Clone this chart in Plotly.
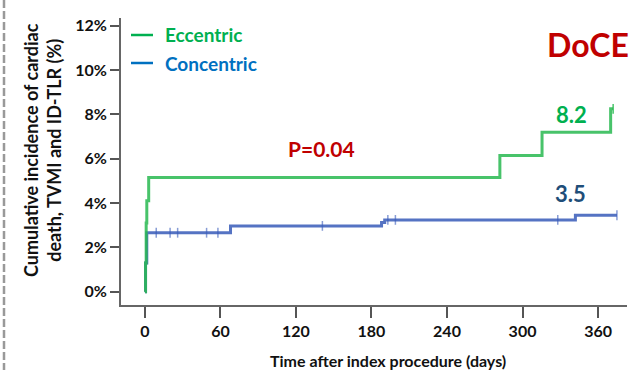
import plotly.graph_objects as go

# ---- data ----
ecc_days = [0, 0.5, 1.0, 1.5, 3.0, 282, 315.5, 370, 372]
ecc_pct = [0, 1.3, 3.1, 4.1, 5.15, 6.15, 7.2, 8.25, 8.25]

con_days = [0, 0.5, 1.5, 68, 188, 190.5, 342, 375]
con_pct = [0, 1.3, 2.66, 2.97, 3.12, 3.24, 3.45, 3.45]

con_cens_days = [9, 20, 26, 49, 58, 141, 193, 199, 328, 375]
con_cens_pct = [2.66, 2.66, 2.66, 2.66, 2.66, 2.97, 3.24, 3.24, 3.24, 3.45]
ecc_cens_days = [372]
ecc_cens_pct = [8.25]

x_ticks = [0, 60, 120, 180, 240, 300, 360]
y_ticks = [0, 2, 4, 6, 8, 10, 12]
y_ticklabels = ["0%", "2%", "4%", "6%", "8%", "10%", "12%"]

GREEN_LINE = "rgba(40,185,80,0.85)"
BLUE_LINE = "rgba(55,90,185,0.85)"
GREEN_TXT = "#00b050"
BLUE_TXT = "#0070c0"
NAVY = "#1f4e79"
RED = "#c00000"
FONT = "Lato"

fig = go.Figure()
fig.add_trace(go.Scatter(x=con_days, y=con_pct, mode="lines", line=dict(color=BLUE_LINE, width=3, shape="hv"),
                         showlegend=False, hoverinfo="skip"))
fig.add_trace(go.Scatter(x=ecc_days, y=ecc_pct, mode="lines", line=dict(color=GREEN_LINE, width=3, shape="hv"),
                         showlegend=False, hoverinfo="skip"))
fig.add_trace(go.Scatter(x=con_cens_days, y=con_cens_pct, mode="markers",
                         marker=dict(symbol="line-ns", size=7, line=dict(color="rgba(55,90,185,0.6)", width=1.5)),
                         showlegend=False, hoverinfo="skip"))
fig.add_trace(go.Scatter(x=ecc_cens_days, y=ecc_cens_pct, mode="markers",
                         marker=dict(symbol="line-ns", size=7, line=dict(color=GREEN_LINE, width=1.5)),
                         showlegend=False, hoverinfo="skip"))

L, R, T, B = 121, 7, 18, 65
W, H = 634, 370
pw = W - L - R
ph = H - T - B


def px(xp):
    return (xp - L) / pw


def py(yp):
    return (H - B - yp) / ph


fig.update_layout(
    width=W, height=H,
    margin=dict(l=L, r=R, t=T, b=B, pad=0),
    paper_bgcolor="white", plot_bgcolor="white",
    font=dict(family=FONT, color="#111"),
    xaxis=dict(range=[-19, 383], tickmode="array", tickvals=x_ticks,
               showgrid=False, zeroline=False, showline=True, linecolor="#666", linewidth=2,
               ticks="outside", ticklen=11, tickwidth=2, tickcolor="#555",
               tickfont=dict(family=FONT, size=16, color="#111", weight="bold")),
    yaxis=dict(range=[-0.6, 12.35], tickmode="array", tickvals=y_ticks, ticktext=y_ticklabels,
               showgrid=False, zeroline=False, showline=True, linecolor="#666", linewidth=2,
               ticks="outside", ticklen=9, tickwidth=2, tickcolor="#555",
               tickfont=dict(family=FONT, size=16, color="#111", weight="bold")),
)

ann = []
# axis titles
ann.append(dict(text="<b>Time after index procedure (days)</b>", xref="paper", yref="paper",
                x=px(388), y=py(360), xanchor="center", yanchor="middle", showarrow=False,
                font=dict(family=FONT, size=16, color="#111")))
ann.append(dict(text="<b>Cumulative incidence of cardiac<br>death, TVMI and ID-TLR (%)</b>", xref="paper", yref="paper",
                x=px(42), y=py(150), xanchor="center", yanchor="middle", showarrow=False, textangle=-90,
                font=dict(family=FONT, size=18, color="#111")))
# legend
ann.append(dict(text="<b>Eccentric</b>", xref="paper", yref="paper", x=px(163), y=py(35),
                xanchor="left", yanchor="middle", showarrow=False, font=dict(family=FONT, size=19, color=GREEN_TXT)))
ann.append(dict(text="<b>Concentric</b>", xref="paper", yref="paper", x=px(163), y=py(63),
                xanchor="left", yanchor="middle", showarrow=False, font=dict(family=FONT, size=19, color=BLUE_TXT)))
# labels
ann.append(dict(text="<b>DoCE</b>", xref="paper", yref="paper", x=px(588), y=py(44),
                xanchor="center", yanchor="middle", showarrow=False, font=dict(family=FONT, size=32, color=RED)))
ann.append(dict(text="<b>P=0.04</b>", xref="paper", yref="paper", x=px(321), y=py(148),
                xanchor="center", yanchor="middle", showarrow=False, font=dict(family=FONT, size=21, color=RED)))
ann.append(dict(text="<b>8.2</b>", xref="paper", yref="paper", x=px(571), y=py(114),
                xanchor="center", yanchor="middle", showarrow=False, font=dict(family=FONT, size=22, color=GREEN_TXT)))
ann.append(dict(text="<b>3.5</b>", xref="paper", yref="paper", x=px(570), y=py(193),
                xanchor="center", yanchor="middle", showarrow=False, font=dict(family=FONT, size=22, color=NAVY)))
fig.update_layout(annotations=ann)

shapes = [
    dict(type="line", xref="paper", yref="paper", x0=px(131), x1=px(153), y0=py(35), y1=py(35),
         line=dict(color=GREEN_TXT, width=2.5)),
    dict(type="line", xref="paper", yref="paper", x0=px(131), x1=px(153), y0=py(63), y1=py(63),
         line=dict(color=BLUE_TXT, width=2.5)),
    dict(type="line", xref="paper", yref="paper", x0=px(4), x1=px(4), y0=py(0), y1=py(370),
         line=dict(color="#999", width=2.5, dash="8px,3px")),
]
fig.update_layout(shapes=shapes)

fig.write_html("out.html")
